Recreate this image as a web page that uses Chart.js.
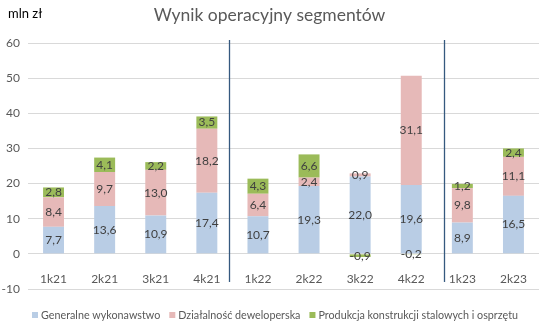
<!DOCTYPE html>
<html>
<head>
<meta charset="utf-8">
<script src="https://cdn.jsdelivr.net/npm/chart.js@4"></script>
<style>
  body { margin: 0; background: #fff; }
  #wrap { width: 550px; height: 329px; }
</style>
</head>
<body>
<div id="wrap"><canvas id="chart"></canvas></div>
<script>
const categories = ['1k21', '2k21', '3k21', '4k21', '1k22', '2k22', '3k22', '4k22', '1k23', '2k23'];
const generalne = [7.7, 13.6, 10.9, 17.4, 10.7, 19.3, 22.0, 19.6, 8.9, 16.5];
const deweloperska = [8.4, 9.7, 13.0, 18.2, 6.4, 2.4, 0.9, 31.1, 9.8, 11.1];
const produkcja = [2.8, 4.1, 2.2, 3.5, 4.3, 6.6, -0.9, -0.2, 1.2, 2.4];
// separators between years, in category units (drawn by hand in the original, not exactly centred)
const yearBreaks = [3.43, 7.64];

const FONT = 'Lato, "Open Sans", sans-serif';

// value labels in the middle of each segment
const barLabels = {
    id: 'barLabels',
    afterDatasetsDraw(chart) {
        const ctx = chart.ctx;
        ctx.save();
        ctx.font = '12px ' + FONT;
        ctx.fillStyle = '#404040';
        ctx.textAlign = 'center';
        ctx.textBaseline = 'middle';
        chart.data.datasets.forEach((ds, i) => {
            const meta = chart.getDatasetMeta(i);
            meta.data.forEach((bar, j) => {
                const v = ds.data[j];
                ctx.fillText(v.toFixed(1).replace('.', ','), bar.x, (bar.y + bar.base) / 2);
            });
        });
        ctx.restore();
    }
};

// vertical lines between the years, unit label and a one-line legend
const extras = {
    id: 'extras',
    afterDatasetsDraw(chart) {
        const ctx = chart.ctx;
        const x = chart.scales.x;
        const y = chart.scales.y;
        const step = x.getPixelForValue(1) - x.getPixelForValue(0);
        ctx.save();
        ctx.strokeStyle = '#35597f';
        ctx.lineWidth = 1.3;
        yearBreaks.forEach(b => {
            const px = Math.round(x.getPixelForValue(0) + b * step) + 0.5;
            ctx.beginPath();
            ctx.moveTo(px, chart.chartArea.top - 3);
            ctx.lineTo(px, y.getPixelForValue(-8));
            ctx.stroke();
        });

        ctx.font = '13px ' + FONT;
        ctx.fillStyle = '#000';
        ctx.textBaseline = 'middle';
        ctx.fillText('mln zł', 8, 14);

        // legend: Calibri in the original is narrower, so squeeze the text a little
        ctx.font = '12px ' + FONT;
        const items = chart.data.datasets;
        const widths = items.map(d => ctx.measureText(d.label).width);
        const k = Math.min(1, 441 / widths.reduce((a, b) => a + b, 0));
        const box = 6, gap = 3, spacing = 9;
        const total = items.reduce((s, d, i) => s + box + gap + widths[i] * k, 0) + spacing * (items.length - 1);
        let lx = (chart.width - total) / 2;
        const ly = chart.chartArea.bottom + 26;
        items.forEach((d, i) => {
            ctx.fillStyle = d.backgroundColor;
            ctx.fillRect(lx, ly - 3, box, box);
            lx += box + gap;
            ctx.save();
            ctx.translate(lx, ly);
            ctx.scale(k, 1);
            ctx.fillStyle = '#595959';
            ctx.fillText(d.label, 0, 0);
            ctx.restore();
            lx += widths[i] * k + spacing;
        });
        ctx.restore();
    }
};

const ctx = document.getElementById('chart').getContext('2d');
new Chart(ctx, {
    type: 'bar',
    data: {
        labels: categories,
        datasets: [
            { label: 'Generalne wykonawstwo', data: generalne, backgroundColor: '#b9cde5' },
            { label: 'Działalność deweloperska', data: deweloperska, backgroundColor: '#e6b9b8' },
            { label: 'Produkcja konstrukcji stalowych i osprzętu', data: produkcja, backgroundColor: '#9bbb59' }
        ]
    },
    options: {
        responsive: true,
        maintainAspectRatio: false,
        animation: false,
        datasets: { bar: { barPercentage: 0.41, categoryPercentage: 1 } },
        layout: { padding: { left: 0, right: 11, top: 0, bottom: 40 } },
        scales: {
            x: {
                stacked: true,
                position: { y: 0 },
                grid: { display: false },
                border: { display: false },
                ticks: { color: '#595959', font: { family: FONT, size: 12 }, padding: 10, maxRotation: 0 }
            },
            y: {
                stacked: true,
                min: -10,
                max: 60,
                ticks: { stepSize: 10, color: '#595959', font: { family: FONT, size: 12 }, padding: 8 },
                grid: { color: '#d9d9d9', drawTicks: false },
                border: { display: false },
                afterFit(scale) { scale.width = 28; }
            }
        },
        plugins: {
            title: {
                display: true,
                text: 'Wynik operacyjny segmentów',
                color: '#595959',
                font: { family: FONT, size: 17.5, weight: 'normal' },
                padding: { top: 5, bottom: 17 }
            },
            legend: { display: false },
            tooltip: { enabled: false }
        }
    },
    plugins: [barLabels, extras]
});
</script>
</body>
</html>
